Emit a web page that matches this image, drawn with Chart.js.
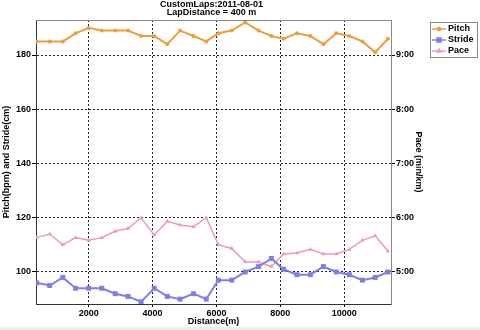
<!DOCTYPE html>
<html>
<head>
<meta charset="utf-8">
<title>CustomLaps</title>
<script src="https://cdn.jsdelivr.net/npm/chart.js@4.4.1/dist/chart.umd.min.js"></script>
<style>
  html, body { margin: 0; padding: 0; background: #fff; }
  #chart { display: block; }
</style>
</head>
<body>
<canvas id="chart" width="480" height="330"></canvas>
<script>
// lap end distance (m)
const distances = [370, 780, 1190, 1590, 2000, 2410, 2830, 3230, 3640, 4050, 4460, 4860, 5280, 5680,
                   6060, 6480, 6900, 7320, 7720, 8100, 8520, 8940, 9350, 9750, 10160, 10570, 10970, 11370];
const pitch = [185, 185, 185, 188, 190, 189, 189, 189, 187, 187, 184, 189, 187, 185,
               188, 189, 192, 189, 187, 186, 188, 187, 184, 188, 187, 185, 181, 186];
const stride = [96, 95, 98, 94, 94, 94, 92, 91, 89, 94, 91, 90, 92, 90,
                97, 97, 100, 102, 105, 101, 99, 99, 102, 100, 99, 97, 98, 100];
// pace in seconds per km
const pace = [338, 342, 330, 338, 335, 338, 345, 348, 360, 341, 356, 352, 350, 360,
              330, 326, 311, 311, 306, 320, 321, 325, 320, 320, 325, 335, 340, 323];

const seriesNames = ['Pitch', 'Stride', 'Pace'];
const titleLines = ['CustomLaps:2011-08-01', 'LapDistance = 400 m'];
const distanceTicks = [2000, 4000, 6000, 8000, 10000];
const pitchStrideTicks = [100, 120, 140, 160, 180];
const paceTicks = [300, 360, 420, 480, 540];

const FONT = '"Liberation Sans", Arial, sans-serif';
Chart.defaults.font.family = FONT;
Chart.defaults.font.size = 9;
Chart.defaults.font.weight = 'bold';
Chart.defaults.color = '#000';

function toPoints(vals) {
    return distances.map((d, i) => ({ x: d, y: vals[i] }));
}

function setTicks(values) {
    return function(scale) {
        scale.ticks = values.map(v => ({ value: v }));
    };
}

function paceLabel(v) {
    const m = Math.floor(v / 60);
    const s = Math.round(v % 60);
    return m + ':' + (s < 10 ? '0' : '') + s;
}

// white background, grey strip at the bottom, top frame line and the boxed legend
const frame = {
    id: 'frame',
    beforeDraw(chart) {
        const ctx = chart.ctx;
        ctx.save();
        ctx.fillStyle = '#fff';
        ctx.fillRect(0, 0, chart.width, chart.height);
        ctx.fillStyle = '#EFEFE9';
        ctx.fillRect(0, chart.height - 3, chart.width, 3);
        ctx.restore();
    },
    afterDraw(chart) {
        const ctx = chart.ctx;
        const a = chart.chartArea;
        ctx.save();
        ctx.strokeStyle = '#888';
        ctx.lineWidth = 1;
        ctx.beginPath();
        ctx.moveTo(a.left, a.top + 0.5);
        ctx.lineTo(a.right, a.top + 0.5);
        ctx.stroke();

        // legend
        const lx = 430, ly = 22, lw = 47, lh = 35;
        ctx.fillStyle = '#fff';
        ctx.fillRect(lx, ly, lw, lh);
        ctx.strokeStyle = '#8a8a8a';
        ctx.strokeRect(lx + 0.5, ly + 0.5, lw, lh);
        ctx.font = 'bold 9px ' + FONT;
        ctx.textBaseline = 'middle';
        chart.data.datasets.forEach((ds, i) => {
            const y = ly + 7 + i * 11;
            ctx.strokeStyle = ds.borderColor;
            ctx.fillStyle = ds.borderColor;
            ctx.lineWidth = 1.5;
            ctx.beginPath();
            ctx.moveTo(lx + 2, y);
            ctx.lineTo(lx + 16, y);
            ctx.stroke();
            Chart.helpers.drawPoint(ctx, {
                pointStyle: ds.pointStyle,
                radius: ds.pointRadius * 0.8,
                borderWidth: 1
            }, lx + 9, y);
            ctx.fillStyle = '#000';
            ctx.fillText(ds.label, lx + 18, y);
        });
        ctx.restore();
    }
};

new Chart(document.getElementById('chart'), {
    type: 'line',
    data: {
        datasets: [
            {
                label: seriesNames[0],
                data: toPoints(pitch),
                yAxisID: 'y',
                borderColor: '#EE9F3C',
                backgroundColor: '#EE9F3C',
                borderWidth: 2,
                pointStyle: 'circle',
                pointRadius: 2,
                pointBorderWidth: 0
            },
            {
                label: seriesNames[1],
                data: toPoints(stride),
                yAxisID: 'y',
                borderColor: '#7E7EE6',
                backgroundColor: '#7E7EE6',
                borderWidth: 2,
                pointStyle: 'rect',
                pointRadius: 3.5,
                pointBorderWidth: 0
            },
            {
                label: seriesNames[2],
                data: toPoints(pace),
                yAxisID: 'y2',
                borderColor: '#EA98C6',
                backgroundColor: '#EA98C6',
                borderWidth: 1.5,
                pointStyle: 'triangle',
                pointRadius: 2.5,
                pointBorderWidth: 0
            }
        ]
    },
    options: {
        responsive: false,
        animation: false,
        devicePixelRatio: 1,
        layout: { padding: { left: 0, right: 57, top: 0, bottom: 0 } },
        plugins: {
            legend: { display: false },
            tooltip: { enabled: false },
            title: {
                display: true,
                text: titleLines,
                color: '#000',
                font: { size: 9, weight: 'bold', lineHeight: 0.89 },
                padding: { top: 1, bottom: 3 }
            }
        },
        scales: {
            x: {
                type: 'linear',
                min: 350,
                max: 11465,
                afterFit(s) { s.height = 26; },
                afterBuildTicks: setTicks(distanceTicks),
                ticks: { padding: 1, maxRotation: 0, callback: v => String(v) },
                grid: { color: '#222', tickColor: '#000', tickLength: 3 },
                border: { color: '#333', dash: [2, 2] },
                title: { display: true, text: 'Distance(m)', font: { lineHeight: 1 },
                         padding: { top: 0, bottom: 4 } }
            },
            y: {
                position: 'left',
                min: 88.2,
                max: 192.9,
                afterFit(s) { s.width = 36; },
                afterBuildTicks: setTicks(pitchStrideTicks),
                ticks: { padding: 1 },
                grid: { color: '#222', tickColor: '#000', tickLength: 4 },
                border: { color: '#333', dash: [2, 2] },
                title: { display: true, text: 'Pitch(bpm) and Stride(cm)', font: { lineHeight: 1 },
                         padding: { top: 2, bottom: 0 } }
            },
            y2: {
                position: 'right',
                min: 264.6,
                max: 578.7,
                afterFit(s) { s.width = 32; },
                afterBuildTicks: setTicks(paceTicks),
                ticks: { padding: 1, callback: v => paceLabel(v) },
                grid: { drawOnChartArea: false, tickColor: '#000', tickLength: 4 },
                border: { color: '#888' },
                title: { display: true, text: 'Pace (min/km)', font: { lineHeight: 1 },
                         padding: { top: 0.5, bottom: 0 } }
            }
        }
    },
    plugins: [frame]
});
</script>
</body>
</html>
